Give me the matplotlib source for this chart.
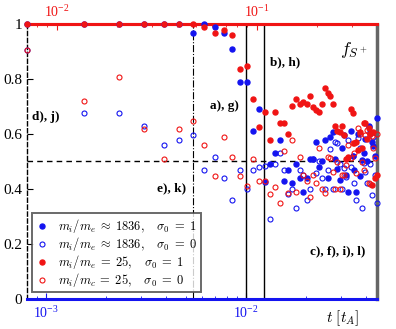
import matplotlib
matplotlib.use("Agg")
import matplotlib.pyplot as plt
import numpy as np

plt.rcParams['font.family'] = ['Liberation Serif', 'DejaVu Serif']
plt.rcParams['mathtext.fontset'] = 'cm'

# snapshot times [t_A] (m_i/m_e scale, bottom axis)
times = [0.0008, 0.00155, 0.002325, 0.0031, 0.003875, 0.00465, 0.005425, 0.0062,
         0.006975, 0.00775, 0.008525, 0.0093, 0.010075, 0.01085, 0.011625, 0.0124,
         0.013175, 0.01395, 0.014725, 0.0155, 0.016275, 0.01705, 0.017825, 0.0186,
         0.019375, 0.02015, 0.020925, 0.0217, 0.022475, 0.02325, 0.024025, 0.0248,
         0.025575, 0.02635, 0.027125, 0.0279, 0.028675, 0.02945, 0.030225, 0.031,
         0.031775, 0.03255, 0.033325, 0.0341, 0.034875, 0.03565, 0.036425, 0.0372,
         0.037975, 0.03875, 0.039525, 0.0403, 0.041075, 0.04185, 0.042625, 0.0434,
         0.044175, 0.04495]

blue_s1 = [1.0, 1.0, 1.0, 1.0, 1.0, 1.0, 0.967, 1.0, 0.99, 0.97, 0.909, 0.79, 0.79, 0.61,
           0.69, 0.425, 0.489, 0.53, 0.578, 0.428, 0.469, 0.42, 0.489, 0.44, 0.39, 0.44,
           0.509, 0.509, 0.57, 0.48, 0.50, 0.578, 0.438, 0.588, 0.608, 0.51, 0.472, 0.432,
           0.55, 0.596, 0.45, 0.387, 0.612, 0.52, 0.469, 0.39, 0.60, 0.447, 0.505, 0.53,
           0.58, 0.50, 0.629, 0.608, 0.572, 0.557, 0.52, 0.66]

blue_s0 = [0.906, 0.678, 0.678, 0.628, 0.559, 0.577, 0.597, 0.469, 0.517, 0.438, 0.359,
           0.469, 0.398, 0.469, 0.478, 0.483, 0.289, 0.489, 0.53, 0.469, 0.38, 0.40, 0.329,
           0.47, 0.45, 0.36, 0.40, 0.507, 0.457, 0.50, 0.438, 0.398, 0.47, 0.544, 0.40,
           0.572, 0.568, 0.49, 0.40, 0.477, 0.444, 0.578, 0.48, 0.52, 0.42, 0.36, 0.584,
           0.55, 0.329, 0.495, 0.462, 0.42, 0.627, 0.49, 0.377, 0.59, 0.45, 0.35]

red_s1 = [1.0, 1.0, 1.0, 1.0, 1.0, 1.0, 1.0, 0.99, 0.97, 0.98, 0.96, 0.838, 0.848, 0.729,
          0.627, 0.68, 0.578, 0.679, 0.641, 0.641, 0.599, 0.702, 0.727, 0.709, 0.718, 0.709,
          0.74, 0.70, 0.687, 0.68, 0.709, 0.767, 0.748, 0.74, 0.709, 0.629, 0.612, 0.608,
          0.629, 0.596, 0.51, 0.517, 0.69, 0.678, 0.566, 0.57, 0.54, 0.608, 0.55, 0.639,
          0.639, 0.58, 0.623, 0.60, 0.414, 0.608, 0.438, 0.45]

red_s0 = [0.906, 0.719, 0.807, 0.617, 0.508, 0.618, 0.648, 0.56, 0.448, 0.588, 0.517,
          0.448, 0.41, 0.509, 0.428, 0.43, 0.38, 0.408, 0.347, 0.539, 0.386, 0.578, 0.39,
          0.517, 0.45, 0.43, 0.37, 0.45, 0.42, 0.55, 0.40, 0.383, 0.517, 0.513, 0.462,
          0.40, 0.499, 0.40, 0.45, 0.45, 0.487, 0.56, 0.513, 0.566, 0.53, 0.457, 0.623,
          0.60, 0.499, 0.469, 0.596, 0.615, 0.42, 0.416, 0.593, 0.55, 0.511, 0.60]

legend_labels = [r'$m_i/m_e\;\approx\;1836,\quad\sigma_0\;=\;1$',
                 r'$m_i/m_e\;\approx\;1836,\quad\sigma_0\;=\;0$',
                 r'$m_i/m_e\;=\;25,\quad\sigma_0\;=\;1$',
                 r'$m_i/m_c\;=\;25,\quad\sigma_0\;=\;0$']

snap_dashdot = [0.005425]
snap_solid = [0.01, 0.01233]
top_factor = 8.85

BLUE = '#1414f0'
RED = '#f01414'

fig = plt.figure(figsize=(3.96, 3.29), dpi=100)
ax = fig.add_axes([27/396, 1 - 298.5/329, 350/396, 274.2/329])
ax.set_xscale('log')
xmin, xmax = 8.035e-4, 0.0452
ax.set_xlim(xmin, xmax)
ax.set_ylim(0, 1)

ms = 3.6
h1, = ax.plot(times, blue_s1, 'o', color=BLUE, ms=ms, mec=BLUE, ls='none', clip_on=False, zorder=3)
h2, = ax.plot(times, blue_s0, 'o', mfc='none', mec=BLUE, ms=ms, mew=0.8, ls='none', clip_on=False, zorder=3)
h3, = ax.plot(times, red_s1, 'o', color=RED, ms=ms, mec=RED, ls='none', clip_on=False, zorder=4)
h4, = ax.plot(times, red_s0, 'o', mfc='none', mec=RED, ms=ms, mew=0.8, ls='none', clip_on=False, zorder=4)

ax.axhline(0.5, color='black', ls=(0, (4, 3)), lw=1.0, zorder=2)
for t in snap_dashdot:
    ax.axvline(t, color='black', ls='-.', lw=0.8, zorder=2)
for t in snap_solid:
    ax.axvline(t, color='black', ls='-', lw=1.0, zorder=2)

# spines
ax.spines['bottom'].set_color(BLUE)
ax.spines['bottom'].set_linewidth(2.2)
ax.spines['top'].set_color(RED)
ax.spines['top'].set_linewidth(2.2)
ax.spines['left'].set_linestyle((0, (3, 2)))
ax.spines['left'].set_linewidth(1.0)
ax.spines['right'].set_color('#666666')
ax.spines['right'].set_linewidth(2.5)
ax.spines['right'].set_linestyle((0, (3, 1)))

ax.tick_params(axis='x', which='both', direction='in', colors=BLUE, labelcolor=BLUE,
               labelsize=10, top=False, pad=5)
ax.tick_params(axis='x', which='major', length=4)
ax.tick_params(axis='x', which='minor', length=2.5)
ax.tick_params(axis='y', which='major', direction='in', length=4, labelsize=11, right=False)
ax.set_yticks([0, 0.2, 0.4, 0.6, 0.8, 1.0])
ax.set_yticklabels(['0', '0.2', '0.4', '0.6', '0.8', '1'])

# top axis (other mass ratio time scale)
sec = ax.secondary_xaxis('top', functions=(lambda x: x * top_factor,
                                           lambda x: x / top_factor))
sec.spines['top'].set_color(RED)
sec.spines['top'].set_linewidth(2.2)
sec.tick_params(axis='x', which='both', direction='in', colors=RED, labelcolor=RED,
                labelsize=10, pad=3)
sec.tick_params(axis='x', which='major', length=4)
sec.tick_params(axis='x', which='minor', length=2.5)

# annotations
fs = 9.5
kw = dict(transform=ax.transAxes, fontsize=fs, fontweight='bold', va='center', ha='left')
ax.text(0.014, 0.662, 'd), j)', **kw)
ax.text(0.523, 0.702, 'a), g)', **kw)
ax.text(0.694, 0.862, 'b), h)', **kw)
ax.text(0.371, 0.402, 'e), k)', **kw)
ax.text(0.8086, 0.174, 'c), f), i), l)', **kw)
ax.text(0.894, 0.906, r'$f_{S^+}$', transform=ax.transAxes, fontsize=13, va='center')
fig.text(0.822, 0.022, r'$t\ [t_A]$', fontsize=11)

leg = ax.legend([h1, h2, h3, h4], legend_labels, loc='lower left',
                bbox_to_anchor=(0.015, 0.022), fontsize=9, frameon=True,
                fancybox=False, handlelength=1.0, handletextpad=0.8,
                borderpad=0.28, labelspacing=0.0, borderaxespad=0.0)
leg.get_frame().set_edgecolor('#444444')
leg.get_frame().set_linewidth(1.4)
leg.set_zorder(10)

fig.savefig('out.png', dpi=100)
